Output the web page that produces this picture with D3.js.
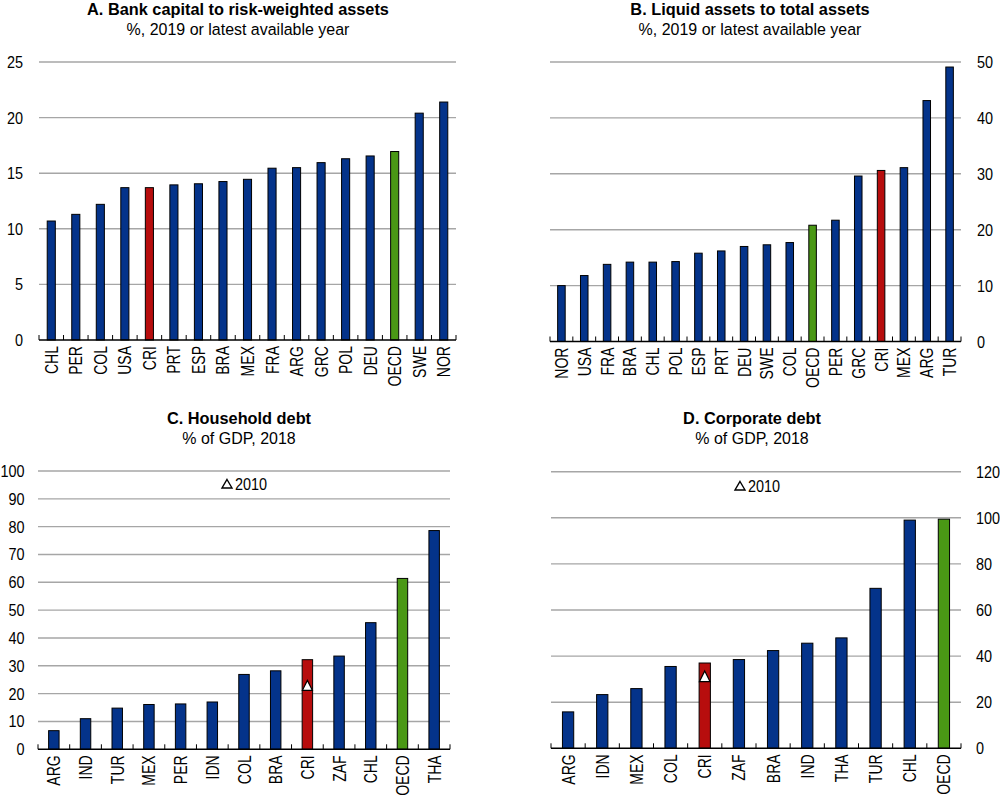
<!DOCTYPE html>
<html><head><meta charset="utf-8">
<script src="https://cdn.jsdelivr.net/npm/d3@7"></script>
<style>
body{margin:0;background:#fff;}
text{font-family:"Liberation Sans Narrow","Arial Narrow","Liberation Sans",Arial,sans-serif;fill:#000;}
</style></head><body>
<svg id="c" width="1000" height="795"></svg>
<script>
// Panel A
const catsA = ["CHL","PER","COL","USA","CRI","PRT","ESP","BRA","MEX","FRA","ARG","GRC","POL","DEU","OECD","SWE","NOR"];
const valsA = [10.7,11.3,12.2,13.7,13.7,13.95,14.05,14.25,14.45,15.45,15.5,15.95,16.3,16.55,16.95,20.4,21.4];
const ticksA = [0,5,10,15,20,25];
// Panel B
const catsB = ["NOR","USA","FRA","BRA","CHL","POL","ESP","PRT","DEU","SWE","COL","OECD","PER","GRC","CRI","MEX","ARG","TUR"];
const valsB = [10.0,11.8,13.8,14.2,14.2,14.3,15.8,16.2,17.0,17.3,17.7,20.8,21.7,29.6,30.6,31.1,43.1,49.1];
const ticksB = [0,10,20,30,40,50];
// Panel C
const catsC = ["ARG","IND","TUR","MEX","PER","IDN","COL","BRA","CRI","ZAF","CHL","OECD","THA"];
const valsC = [6.7,11.0,14.8,16.1,16.3,17.0,26.9,28.2,32.2,33.5,45.5,61.4,78.6];
const ticksC = [0,10,20,30,40,50,60,70,80,90,100];
const markC = {cat:"CRI", value:22.8};
// Panel D
const catsD = ["ARG","IDN","MEX","COL","CRI","ZAF","BRA","IND","THA","TUR","CHL","OECD"];
const valsD = [15.8,23.3,25.9,35.5,37.0,38.5,42.4,45.6,47.9,69.4,99.0,99.4];
const ticksD = [0,20,40,60,80,100,120];
const markD = {cat:"CRI", value:31.0};

const BLUE="#04338a", RED="#b70d0d", GREEN="#4a9815";
const svg = d3.select("#c");

function colorFor(c){ return c==="CRI"?RED:(c==="OECD"?GREEN:BLUE); }

function panel(o){
  const g = svg.append("g");
  const x = d3.scaleBand().domain(o.cats).range([o.x0,o.x1]).paddingInner(0).paddingOuter(0);
  const y = d3.scaleLinear().domain([0,o.max]).range([o.y0,o.yTop]);
  const gap = o.gap || 16;
  // gridlines
  g.selectAll("line.grid").data(o.ticks.filter(t=>t>0)).join("line")
    .attr("x1",o.x0).attr("x2",o.x1).attr("y1",d=>y(d)).attr("y2",d=>y(d))
    .attr("stroke","#a6a6a6").attr("stroke-width",1.4);
  // y tick labels
  g.selectAll("text.yt").data(o.ticks).join("text")
    .attr("transform",d=>`translate(${o.right?o.x1+gap:o.x0-gap},${y(d)+6}) scale(0.85,1)`)
    .attr("text-anchor",o.right?"start":"end")
    .style("font-size","17px").text(d=>d);
  // bars
  const bw = x.bandwidth()*0.33;
  g.selectAll("rect.bar").data(o.cats.map((c,i)=>({c,v:o.vals[i]}))).join("rect")
    .attr("x",d=>x(d.c)+x.bandwidth()/2-bw/2).attr("width",bw)
    .attr("y",d=>y(d.v)).attr("height",d=>y(0)-y(d.v))
    .attr("fill",d=>colorFor(d.c)).attr("stroke","#000").attr("stroke-width",1);
  // baseline + ticks
  g.append("line").attr("x1",o.x0).attr("x2",o.x1).attr("y1",y(0)).attr("y2",y(0))
    .attr("stroke","#000").attr("stroke-width",1.5);
  const bounds = o.cats.map(c=>x(c)).concat([o.x1]);
  g.selectAll("line.tk").data(bounds).join("line")
    .attr("x1",d=>d).attr("x2",d=>d).attr("y1",y(0)).attr("y2",y(0)-5)
    .attr("stroke","#000").attr("stroke-width",1);
  // x labels
  g.selectAll("text.xl").data(o.cats).join("text")
    .attr("transform",d=>`translate(${x(d)+x.bandwidth()/2+6.5},${y(0)+6}) rotate(-90) scale(0.78,1)`)
    .attr("text-anchor","end").style("font-size","18px").text(d=>d);
  // titles
  g.append("text").attr("transform",`translate(${o.tx},${o.ty}) scale(0.96,1)`).attr("text-anchor","middle")
    .style("font-size","17px").style("font-weight","bold").text(o.title);
  g.append("text").attr("transform",`translate(${o.tx},${o.ty+20}) scale(0.94,1)`).attr("text-anchor","middle")
    .style("font-size","17px").text(o.sub);
  // marker
  if(o.mark){
    const cx = x(o.mark.cat)+x.bandwidth()/2, cy = y(o.mark.value);
    const s = bw*0.95;
    g.append("path").attr("d",`M${cx},${cy-s*0.55}L${cx+s/2},${cy+s*0.45}L${cx-s/2},${cy+s*0.45}Z`)
      .attr("fill","#fff").attr("stroke","#000").attr("stroke-width",1.2);
    // legend
    const lx=o.lx, ly=o.ly;
    g.append("path").attr("d",`M${lx},${ly-4.5}L${lx+5},${ly+4}L${lx-5},${ly+4}Z`)
      .attr("fill","#fff").attr("stroke","#000").attr("stroke-width",1.4);
    g.append("text").attr("transform",`translate(${lx+8},${ly+5.5}) scale(0.85,1)`)
      .style("font-size","17px").text("2010");
  }
}

panel({cats:catsA,vals:valsA,ticks:ticksA,max:25,x0:39,x1:456,y0:340,yTop:62,right:false,
  tx:238,ty:15,title:"A. Bank capital to risk-weighted assets",sub:"%, 2019 or latest available year"});
panel({cats:catsB,vals:valsB,ticks:ticksB,max:50,x0:550,x1:961,y0:341.5,yTop:62,right:true,
  tx:750,ty:15,title:"B. Liquid assets to total assets",sub:"%, 2019 or latest available year"});
panel({cats:catsC,vals:valsC,ticks:ticksC,max:100,x0:38,x1:450,y0:749.3,yTop:471,right:false,gap:13.5,
  tx:239,ty:424,title:"C. Household debt",sub:"% of GDP, 2018",mark:markC,lx:227,ly:484});
panel({cats:catsD,vals:valsD,ticks:ticksD,max:120,x0:551,x1:961,y0:748.3,yTop:471.7,right:true,gap:15,
  tx:752,ty:424,title:"D. Corporate debt",sub:"% of GDP, 2018",mark:markD,lx:740,ly:486});
</script></body></html>
